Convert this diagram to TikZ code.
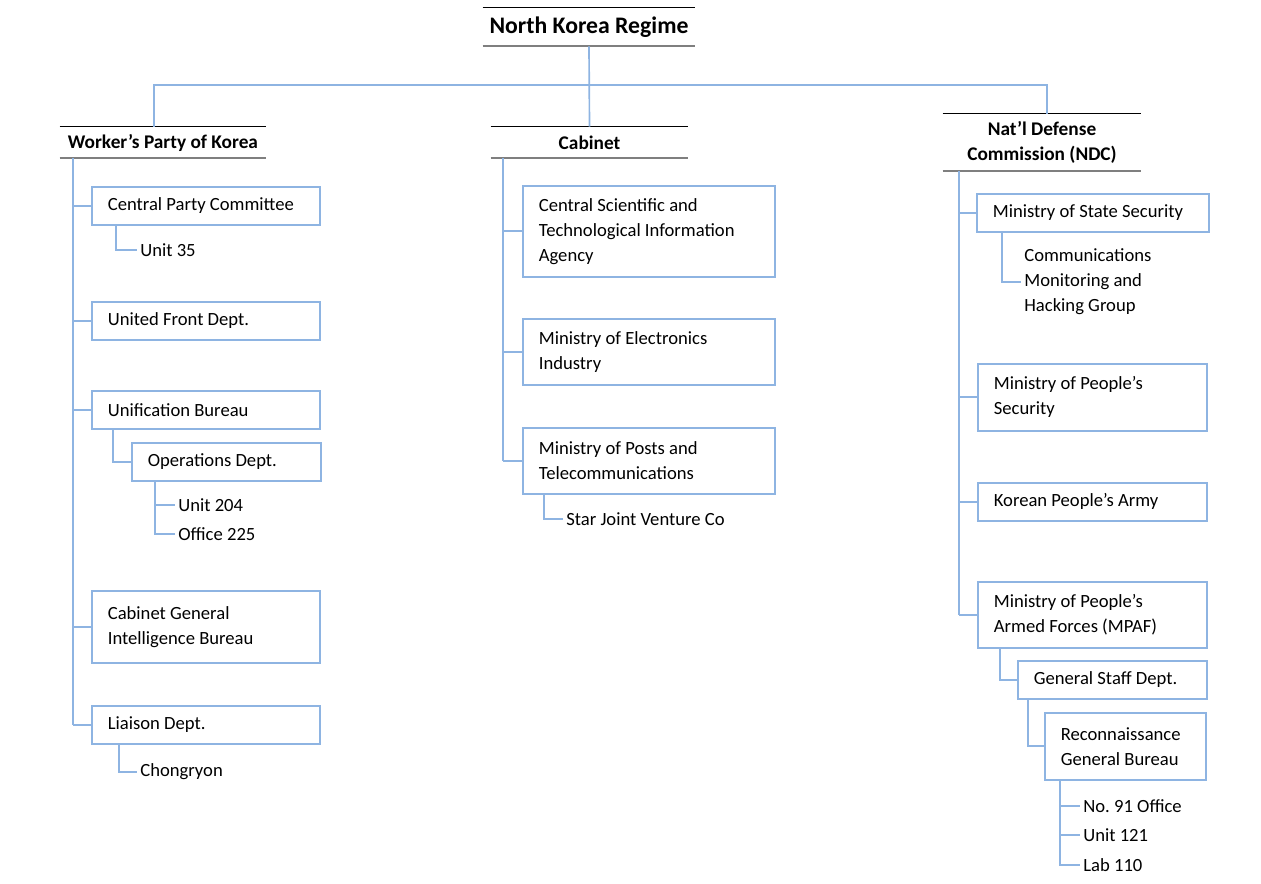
\documentclass[tikz,border=0pt]{standalone}
\usepackage{fontspec}
\setmainfont{Carlito}
\usepackage{xcolor}
\usetikzlibrary{positioning}
\frenchspacing

\definecolor{orgblue}{RGB}{142,180,226}
\definecolor{rulegray}{RGB}{127,127,127}

\tikzset{
  link/.style={draw=orgblue,line width=0.95pt},
  unit/.style={draw=orgblue,line width=0.95pt,anchor=north west,align=flush left,
    inner xsep=0.32cm,inner ysep=0pt,font=\fontsize{10.6}{14.2}\selectfont},
  lbox/.style={unit,text width=3.92cm},
  mbox/.style={unit,text width=4.4cm},
  rbox/.style={unit,text width=3.94cm},
  one/.style={minimum height=0.76cm},
  two/.style={minimum height=1.32cm},
  three/.style={minimum height=1.82cm},
  leaf/.style={anchor=west,align=flush left,inner sep=1.7pt,font=\fontsize{10.6}{14.2}\selectfont},
  hdr/.style={align=center,inner sep=0pt,font=\bfseries\fontsize{11}{14.2}\selectfont},
  toprule/.style={draw=black,line width=0.8pt},
  botrule/.style={draw=rulegray,line width=1.2pt}
}

\begin{document}
\begin{tikzpicture}[x=0.02cm,y=-0.02cm]
\useasboundingbox (0,0) rectangle (1261,884);

%headers
\node[hdr,font=\bfseries\fontsize{13.5}{16}\selectfont,minimum width=4.24cm,minimum height=0.76cm] (nk) at (589,27) {North Korea Regime};
\node[hdr,minimum width=4.12cm,minimum height=0.62cm] (wpk) at (163,142.5) {Worker’s Party of Korea};
\node[hdr,minimum width=3.94cm,minimum height=0.62cm] (cab) at (589.5,142.5) {Cabinet};
\node[hdr,minimum width=3.96cm,minimum height=1.14cm] (ndc) at (1042,142.5) {Nat’l Defense\\Commission (NDC)};
\draw[toprule] (nk.north west) -- (nk.north east);
\draw[botrule] (nk.south west) -- (nk.south east);
\draw[toprule] (wpk.north west) -- (wpk.north east);
\draw[botrule] (wpk.south west) -- (wpk.south east);
\draw[toprule] (cab.north west) -- (cab.north east);
\draw[botrule] (cab.south west) -- (cab.south east);
\draw[toprule] (ndc.north west) -- (ndc.north east);
\draw[botrule] (ndc.south west) -- (ndc.south east);

%top level links
\coordinate (bar) at (588,85);
\draw[link] (nk.south) -- (cab.north);
\draw[link] ([xshift=-0.18cm]wpk.north) |- (bar) -| ([xshift=0.1cm]ndc.north);

%Worker's Party of Korea
\node[lbox,one] (cpc) at (91,186) {Central Party Committee};
\node[leaf] (u35) at (137,250) {Unit 35};
\node[lbox,one] (ufd) at (91,301) {United Front Dept.};
\node[lbox,one] (ub) at (91,390) {Unification Bureau};
\node[unit,text width=3.14cm,one] (ops) at (131,442) {Operations Dept.};
\node[leaf] (u204) at (175,505) {Unit 204};
\node[leaf] (o225) at (175,534) {Office 225};
\node[lbox,minimum height=1.44cm] (cgib) at (91,590) {Cabinet General\\Intelligence Bureau};
\node[lbox,one] (liaison) at (91,705) {Liaison Dept.};
\node[leaf] (chong) at (137,772) {Chongryon};

\draw[link] (wpk.south west) ++(13,0) coordinate (wt) -- (wt |- liaison.west);
\draw[link] (wt |- cpc.west) -- (cpc.west);
\draw[link] (wt |- ufd.west) -- (ufd.west);
\draw[link] (wt |- ub.west) -- (ub.west);
\draw[link] (wt |- cgib.west) -- (cgib.west);
\draw[link] (wt |- liaison.west) -- (liaison.west);
\draw[link] (cpc.south west) ++(25,0) |- (u35.west);
\draw[link] (ub.south west) ++(22,0) |- (ops.west);
\draw[link] (ops.south west) ++(24,0) |- (u204.west);
\draw[link] (ops.south west) ++(24,0) |- (o225.west);
\draw[link] (liaison.south west) ++(28,0) |- (chong.west);

%Cabinet
\node[mbox,three] (cstia) at (522,185) {Central Scientific and\\Technological Information\\Agency};
\node[mbox,two] (mei) at (522,318) {Ministry of Electronics\\Industry};
\node[mbox,two] (mpt) at (522,427) {Ministry of Posts and\\Telecommunications};
\node[leaf] (star) at (563,519) {Star Joint Venture Co};

\draw[link] (cab.south west) ++(12,0) coordinate (ct) -- (ct |- mpt.west);
\draw[link] (ct |- cstia.west) -- (cstia.west);
\draw[link] (ct |- mei.west) -- (mei.west);
\draw[link] (ct |- mpt.west) -- (mpt.west);
\draw[link] (mpt.south west) ++(22,0) |- (star.west);

%Nat'l Defense Commission
\node[unit,text width=4.0cm,one] (mss) at (976,193) {Ministry of State Security};
\node[leaf] (cmhg) at (1021,282) {Communications\\Monitoring and\\Hacking Group};
\node[rbox,minimum height=1.34cm] (mps) at (977,363) {Ministry of People’s\\Security};
\node[rbox,one] (kpa) at (977,482) {Korean People’s Army};
\node[rbox,two] (mpaf) at (977,581) {Ministry of People’s\\Armed Forces (MPAF)};
\node[unit,text width=3.14cm,one] (gsd) at (1017,660) {General Staff Dept.};
\node[unit,text width=2.58cm,minimum height=1.34cm] (rgb) at (1044,712) {Reconnaissance\\General Bureau};
\node[leaf] (n91) at (1080,806) {No. 91 Office};
\node[leaf] (u121) at (1080,835) {Unit 121};
\node[leaf] (l110) at (1080,865) {Lab 110};

\draw[link] (ndc.south west) ++(16,0) coordinate (nt) -- (nt |- mpaf.west);
\draw[link] (nt |- mss.west) -- (mss.west);
\draw[link] (nt |- mps.west) -- (mps.west);
\draw[link] (nt |- kpa.west) -- (kpa.west);
\draw[link] (nt |- mpaf.west) -- (mpaf.west);
\draw[link] (mss.south west) ++(26,0) |- (cmhg.west);
\draw[link] (mpaf.south west) ++(23,0) |- (gsd.west);
\draw[link] (gsd.south west) ++(11,0) |- (rgb.west);
\draw[link] (rgb.south west) ++(16,0) |- (n91.west);
\draw[link] (rgb.south west) ++(16,0) |- (u121.west);
\draw[link] (rgb.south west) ++(16,0) |- (l110.west);

\end{tikzpicture}
\end{document}
